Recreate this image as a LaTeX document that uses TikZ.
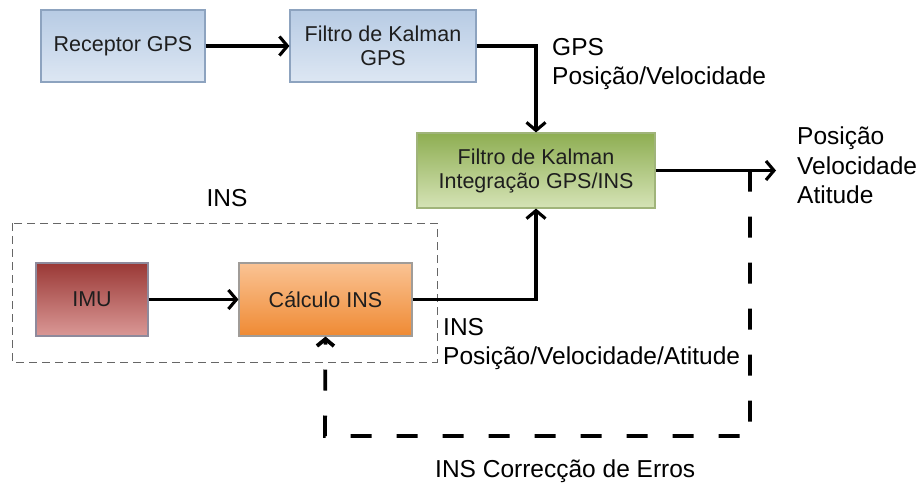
\documentclass[tikz,border=0pt]{standalone}
\usepackage{fontspec}
\setmainfont{Liberation Sans}
\usetikzlibrary{arrows.meta}

\definecolor{blueTop}{HTML}{B7CBE4}
\definecolor{blueBot}{HTML}{DDE7F3}
\definecolor{blueEdge}{HTML}{8DA3BF}
\definecolor{greenTop}{HTML}{8EAE52}
\definecolor{greenBot}{HTML}{D5E3B6}
\definecolor{greenEdge}{HTML}{A0B47A}
\definecolor{redTop}{HTML}{9A3936}
\definecolor{redBot}{HTML}{DA9896}
\definecolor{redEdge}{HTML}{8E8A9C}
\definecolor{orangeTop}{HTML}{FAC394}
\definecolor{orangeBot}{HTML}{EF8A33}
\definecolor{orangeEdge}{HTML}{A09C98}
\definecolor{inkText}{HTML}{1E1E1E}

\begin{document}
\begin{tikzpicture}[x=1pt,y=-1pt,
  blk/.style={draw, line width=1.1pt, inner sep=0pt, align=center,
    font=\fontsize{21.5}{24}\selectfont, text=inkText},
  bluebox/.style={blk, draw=blueEdge, top color=blueTop, bottom color=blueBot},
  greenbox/.style={blk, draw=greenEdge, top color=greenTop, bottom color=greenBot},
  redbox/.style={blk, draw=redEdge, top color=redTop, bottom color=redBot},
  orangebox/.style={blk, draw=orangeEdge, top color=orangeTop, bottom color=orangeBot},
  lbl/.style={inner sep=0pt, align=left, font=\fontsize{24.5}{29.5}\selectfont, text=black},
  link/.style={line width=3.1pt, -{Straight Barb[length=8pt,width=19pt]}},
  fbline/.style={line width=3.8pt, dash pattern=on 21pt off 25pt,
    -{Straight Barb[length=7pt,width=17pt]}},
  groupframe/.style={draw=black!60, line width=1pt, dash pattern=on 8pt off 5pt}
]
\useasboundingbox (0,0) rectangle (920,482);

% INS subsystem frame
\draw[groupframe] (12,223) rectangle (437,362);
\node[lbl, align=center] (inslbl) at (227,198.5) {INS};

% processing blocks
\node[bluebox, minimum width=164pt, minimum height=72pt] (gpsrx) at (123,46) {Receptor GPS};
\node[bluebox, minimum width=186pt, minimum height=72pt] (kfgps) at (383,46) {Filtro de Kalman\\GPS};
\node[greenbox, minimum width=238pt, minimum height=75pt] (kfint) at (536,170.5) {Filtro de Kalman\\Integração GPS/INS};
\node[redbox, minimum width=112pt, minimum height=73pt] (imu) at (92,299.5) {IMU};
\node[orangebox, minimum width=173pt, minimum height=73pt] (calc) at (325.5,299.5) {Cálculo INS};

% signal labels
\node[lbl, anchor=north west] (gpsout) at (552,38) {GPS\\Posição/Velocidade};
\node[lbl, anchor=north west] (navout) at (797,127) {Posição\\Velocidade\\Atitude};
\node[lbl, anchor=north west] (insout) at (443,318) {INS\\Posição/Velocidade/Atitude};
\node[lbl, anchor=north west] (corr) at (435,460) {INS Correcção de Erros};

% connectors
\coordinate (outtip) at (776,170.5);
\coordinate (fbtop) at (750,170.5);
\coordinate (fbcorner) at (325,436);

\draw[link] (gpsrx.east) -- (kfgps.west);
\draw[link] (kfgps.east) -| (kfint.north);
\draw[link] (imu.east) -- (calc.west);
\draw[link] (calc.east) -| (kfint.south);
\draw[link] (kfint.east) -- (outtip);
\draw[fbline] (fbtop) |- (fbcorner) -- (calc.south);
\end{tikzpicture}
\end{document}
